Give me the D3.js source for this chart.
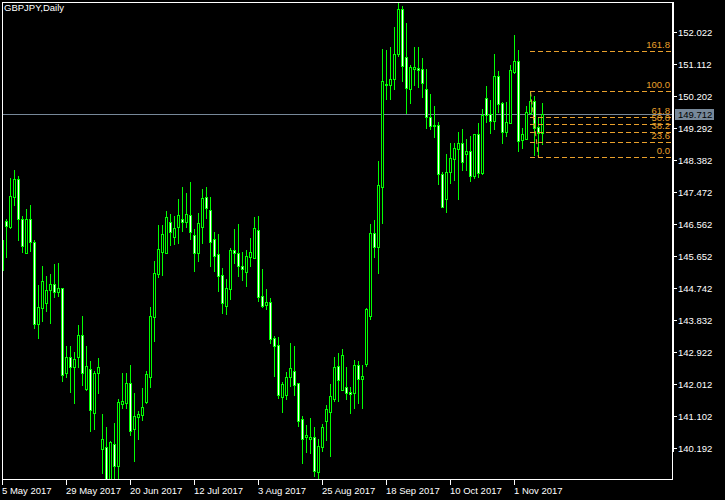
<!DOCTYPE html>
<html><head><meta charset="utf-8">
<script src="https://cdn.jsdelivr.net/npm/d3@7"></script>
<style>html,body{margin:0;padding:0;background:#000;} svg{display:block;}</style>
</head><body>
<svg id="c" width="725" height="500"></svg>
<script>
const title = "GBPJPY,Daily";
const tickLabels = ["5 May 2017","29 May 2017","20 Jun 2017","12 Jul 2017","3 Aug 2017","25 Aug 2017","18 Sep 2017","10 Oct 2017","1 Nov 2017"];
const tickIndex = [0,16,32,48,64,80,96,112,128];
const priceTicks = [152.022,151.112,150.202,149.292,148.382,147.472,146.562,145.652,144.742,143.832,142.922,142.012,141.102,140.192];

const open = [145.262,146.655,146.493,147.346,147.850,146.704,145.754,146.704,146.050,143.718,
144.190,144.315,144.693,144.864,144.628,144.742,142.324,142.796,142.512,142.779,
143.405,141.878,142.438,141.187,142.324,140.180,140.220,139.177,140.306,139.697,
141.460,141.488,142.040,140.732,141.090,141.147,141.517,142.228,143.917,145.140,
145.782,145.754,146.618,146.209,146.476,146.704,146.635,146.818,146.249,145.754,
146.493,147.329,146.968,146.135,145.708,145.120,144.247,144.722,145.831,145.737,
145.384,145.214,145.640,145.612,146.399,144.523,144.275,144.343,143.320,143.129,
141.659,141.716,142.211,142.390,142.040,141.016,140.521,140.456,140.504,139.509,
140.220,140.977,141.232,141.602,142.532,141.850,141.926,141.784,141.756,142.560,
142.154,142.589,143.962,146.306,145.907,147.631,150.523,150.523,150.685,151.396,
152.676,151.328,150.401,150.978,150.998,150.969,150.401,149.621,149.385,149.385,
147.983,147.273,148.040,148.419,148.703,148.865,148.561,148.646,147.944,149.129,
148.029,150.145,149.698,149.508,150.779,150.003,149.195,149.451,150.884,151.205,
148.959,148.979,149.718,150.068,149.320,149.149];
const high = [146.229,146.704,147.870,148.106,147.944,146.798,146.997,147.110,146.115,144.835,
145.376,145.091,145.148,145.433,145.470,144.759,143.101,143.101,142.922,143.698,
143.954,143.101,142.674,142.390,142.751,141.167,140.806,140.399,140.911,141.594,
142.324,142.324,142.560,141.764,141.261,141.898,142.390,144.210,145.518,146.542,
146.542,146.940,146.846,146.798,147.281,147.614,147.460,147.764,146.428,146.883,
147.565,147.614,147.346,146.351,146.286,145.327,145.006,145.879,146.428,146.570,
145.765,145.831,146.172,146.778,146.798,145.290,144.722,144.466,143.385,143.365,
142.068,142.353,143.195,143.101,142.057,141.110,140.854,141.062,140.789,140.447,
140.874,141.423,142.020,142.796,142.910,143.015,142.512,141.926,142.703,142.674,
142.560,144.173,146.570,146.684,148.362,151.547,151.518,151.612,152.164,152.846,
152.769,152.277,151.092,151.595,151.595,151.282,150.978,150.258,149.926,149.471,
148.040,148.561,148.865,148.865,149.195,149.272,148.987,149.073,149.129,149.434,
149.840,150.494,150.096,151.404,150.921,150.048,150.048,151.092,151.945,151.518,
149.309,149.926,150.344,150.210,149.621,150.002];
const low = [145.148,145.640,146.448,147.110,146.115,145.782,145.754,145.811,143.621,143.337,
143.812,144.096,143.763,144.503,144.531,142.114,142.228,141.801,141.471,142.512,
141.992,141.850,140.692,140.732,141.756,139.498,139.120,139.063,139.262,139.262,
141.329,141.329,140.570,139.831,140.465,140.996,141.488,141.935,143.243,145.071,
145.120,145.754,145.973,146.001,146.021,146.380,146.493,146.144,145.242,145.518,
146.021,146.732,145.376,145.234,144.665,144.048,144.011,144.437,145.452,145.091,
144.978,144.807,145.376,145.612,144.389,144.210,144.153,143.177,142.248,141.622,
141.215,141.594,141.955,141.707,140.826,139.782,140.095,140.049,139.404,139.319,
140.123,140.428,139.973,141.537,141.537,141.850,141.585,141.187,141.346,141.471,
141.346,142.541,143.869,145.640,145.168,146.607,150.125,150.125,150.409,151.356,
150.645,149.718,150.002,150.523,150.474,150.190,149.292,149.272,149.036,147.699,
147.045,146.920,147.745,147.821,147.281,148.106,148.106,147.793,147.887,147.898,
147.992,149.479,149.149,149.272,149.764,148.882,149.073,149.451,150.856,148.655,
148.723,148.979,149.698,148.532,148.467,148.837];
const close = [146.115,146.522,147.366,147.850,146.704,145.953,146.704,146.067,143.718,144.210,
144.949,144.693,144.864,144.628,144.742,142.276,142.796,142.512,142.731,143.405,
142.324,142.540,141.272,142.324,142.495,140.447,139.233,140.371,139.697,141.500,
141.528,142.040,140.692,141.110,141.167,141.358,142.296,143.945,145.168,145.851,
146.277,146.778,146.334,146.448,146.818,146.635,146.846,146.351,145.754,146.590,
147.301,147.016,146.067,145.669,145.100,144.332,144.742,145.831,145.737,145.384,
145.282,145.660,145.765,146.448,144.503,144.247,144.352,143.308,143.109,141.716,
142.020,142.211,142.467,141.992,140.977,140.447,140.570,140.521,139.555,140.257,
140.789,141.301,141.679,142.512,142.134,142.836,141.773,141.727,142.560,142.154,
142.248,144.153,146.306,145.907,147.679,150.637,150.551,150.685,151.396,152.676,
151.072,150.429,151.026,151.026,150.949,150.571,149.621,149.357,149.357,147.983,
147.062,148.040,148.438,148.723,148.882,148.325,148.646,147.944,149.129,148.029,
149.670,149.670,149.508,150.779,149.983,149.195,149.462,150.949,151.205,148.939,
149.121,149.764,150.068,149.292,149.149,149.712];

const currentPrice = 149.712;
const fibLevels = [161.8, 100.0, 61.8, 50.0, 38.2, 23.6, 0.0];
const fibPrice100 = 150.344, fibPrice0 = 148.467;
const fibIdx100 = 132, fibIdx0 = 134;

const W = 725, H = 500;
const L = 2, T = 2, R = 672, B = 479;
const FONT = "Liberation Sans, Arial, sans-serif";
const FIB = "#E9A02C";
const BULL = "#000000", BEAR = "#FFFFFF", LINE = "#00FF00";

const svg = d3.select("#c");
svg.append("rect").attr("width", W).attr("height", H).attr("fill", "#000");

const x = d3.scaleLinear().domain([0, 135]).range([2.5, 542.5]);
const y = d3.scaleLinear().domain([140.192, 152.022]).range([448.3, 32.3]);
const py = v => Math.round(y(v));

svg.append("defs").append("clipPath").attr("id", "clip")
  .append("rect").attr("x", L + 1).attr("y", T + 1).attr("width", R - L - 1).attr("height", B - T - 1);

const plot = svg.append("g").attr("clip-path", "url(#clip)").attr("shape-rendering", "crispEdges");

// bid line
const yb = py(currentPrice) + 0.5;
plot.append("line").attr("x1", L).attr("x2", R).attr("y1", yb).attr("y2", yb)
  .attr("stroke", "#778899").attr("stroke-width", 1);

// candles
const idx = d3.range(open.length);
const cg = plot.append("g");
idx.forEach(i => {
  const xc = x(i);
  cg.append("line").attr("x1", xc).attr("x2", xc)
    .attr("y1", py(high[i])).attr("y2", py(low[i]) + 1)
    .attr("stroke", LINE).attr("stroke-width", 1);
  const yo = py(open[i]), yc = py(close[i]);
  const top = Math.min(yo, yc), bot = Math.max(yo, yc);
  const bull = close[i] >= open[i];
  if (bot - top < 1) {
    cg.append("line").attr("x1", xc - 1.5).attr("x2", xc + 1.5).attr("y1", top + 0.5).attr("y2", top + 0.5)
      .attr("stroke", LINE).attr("stroke-width", 1);
  } else {
    cg.append("rect").attr("x", xc - 1).attr("y", top + 0.5).attr("width", 2).attr("height", bot - top)
      .attr("fill", bull ? BULL : BEAR).attr("stroke", LINE).attr("stroke-width", 1);
  }
});

// fibonacci
const fg = plot.append("g");
const fx0 = x(fibIdx100);
fg.append("line").attr("x1", x(fibIdx100)).attr("y1", py(fibPrice100) + 0.5)
  .attr("x2", x(fibIdx0)).attr("y2", py(fibPrice0) + 0.5)
  .attr("stroke", FIB).attr("stroke-dasharray", "5,3").attr("shape-rendering", "auto");
fibLevels.forEach(lv => {
  const p = fibPrice0 + (fibPrice100 - fibPrice0) * lv / 100;
  const yy = py(p) + 0.5;
  fg.append("line").attr("x1", fx0 - 0.5).attr("x2", R).attr("y1", yy).attr("y2", yy)
    .attr("stroke", FIB).attr("stroke-width", 1).attr("stroke-dasharray", "5,3");
  fg.append("text").attr("x", R - 2).attr("y", yy - 3.5).attr("text-anchor", "end")
    .attr("fill", FIB).attr("font-family", FONT).attr("font-size", "9.5px")
    .attr("shape-rendering", "auto").text(lv.toFixed(1));
});

// frame
svg.append("rect").attr("x", L + 0.5).attr("y", T + 0.5).attr("width", R - L).attr("height", B - T)
  .attr("fill", "none").attr("stroke", "#fff").attr("stroke-width", 1).attr("shape-rendering", "crispEdges");
svg.append("line").attr("x1", R + 1.5).attr("x2", R + 1.5).attr("y1", T).attr("y2", 452)
  .attr("stroke", "#fff").attr("stroke-width", 1).attr("shape-rendering", "crispEdges");

// price axis
const yAxis = svg.append("g").attr("transform", `translate(${R + 0.5},0)`)
  .call(d3.axisRight(y).tickValues(priceTicks).tickSize(4).tickPadding(2).tickFormat(d3.format(".3f")));
yAxis.select(".domain").remove();
yAxis.selectAll(".tick").attr("transform", d => `translate(0,${py(d) + 0.5})`);
yAxis.selectAll(".tick line").attr("stroke", "#fff").attr("shape-rendering", "crispEdges");
yAxis.selectAll(".tick text").attr("fill", "#fff").attr("font-family", FONT).attr("font-size", "9.5px")
  .attr("x", 5.5).attr("dy", "0.34em");

// current price label
const lab = svg.append("g");
lab.append("rect").attr("x", 675).attr("y", yb - 5.5).attr("width", 39).attr("height", 11).attr("fill", "#778899");
lab.append("text").attr("x", 678).attr("y", yb).attr("dy", "0.34em").attr("fill", "#000")
  .attr("font-family", FONT).attr("font-size", "9.5px").text(currentPrice.toFixed(3));

// time axis
const xAxis = svg.append("g").attr("transform", `translate(0,${B + 0.5})`)
  .call(d3.axisBottom(x).tickValues(tickIndex).tickSize(5).tickPadding(3)
    .tickFormat((d, k) => tickLabels[k]));
xAxis.select(".domain").remove();
xAxis.selectAll(".tick").attr("transform", d => `translate(${x(d) - 0.5},0)`);
xAxis.selectAll(".tick line").attr("stroke", "#fff").attr("shape-rendering", "crispEdges");
xAxis.selectAll(".tick text").attr("fill", "#fff").attr("font-family", FONT).attr("font-size", "9.5px")
  .attr("text-anchor", "start").attr("x", 0);

// title
svg.append("text").attr("x", 4).attr("y", 11).attr("fill", "#fff").attr("font-family", FONT)
  .attr("font-size", "9.5px").text(title);
</script>
</body></html>
